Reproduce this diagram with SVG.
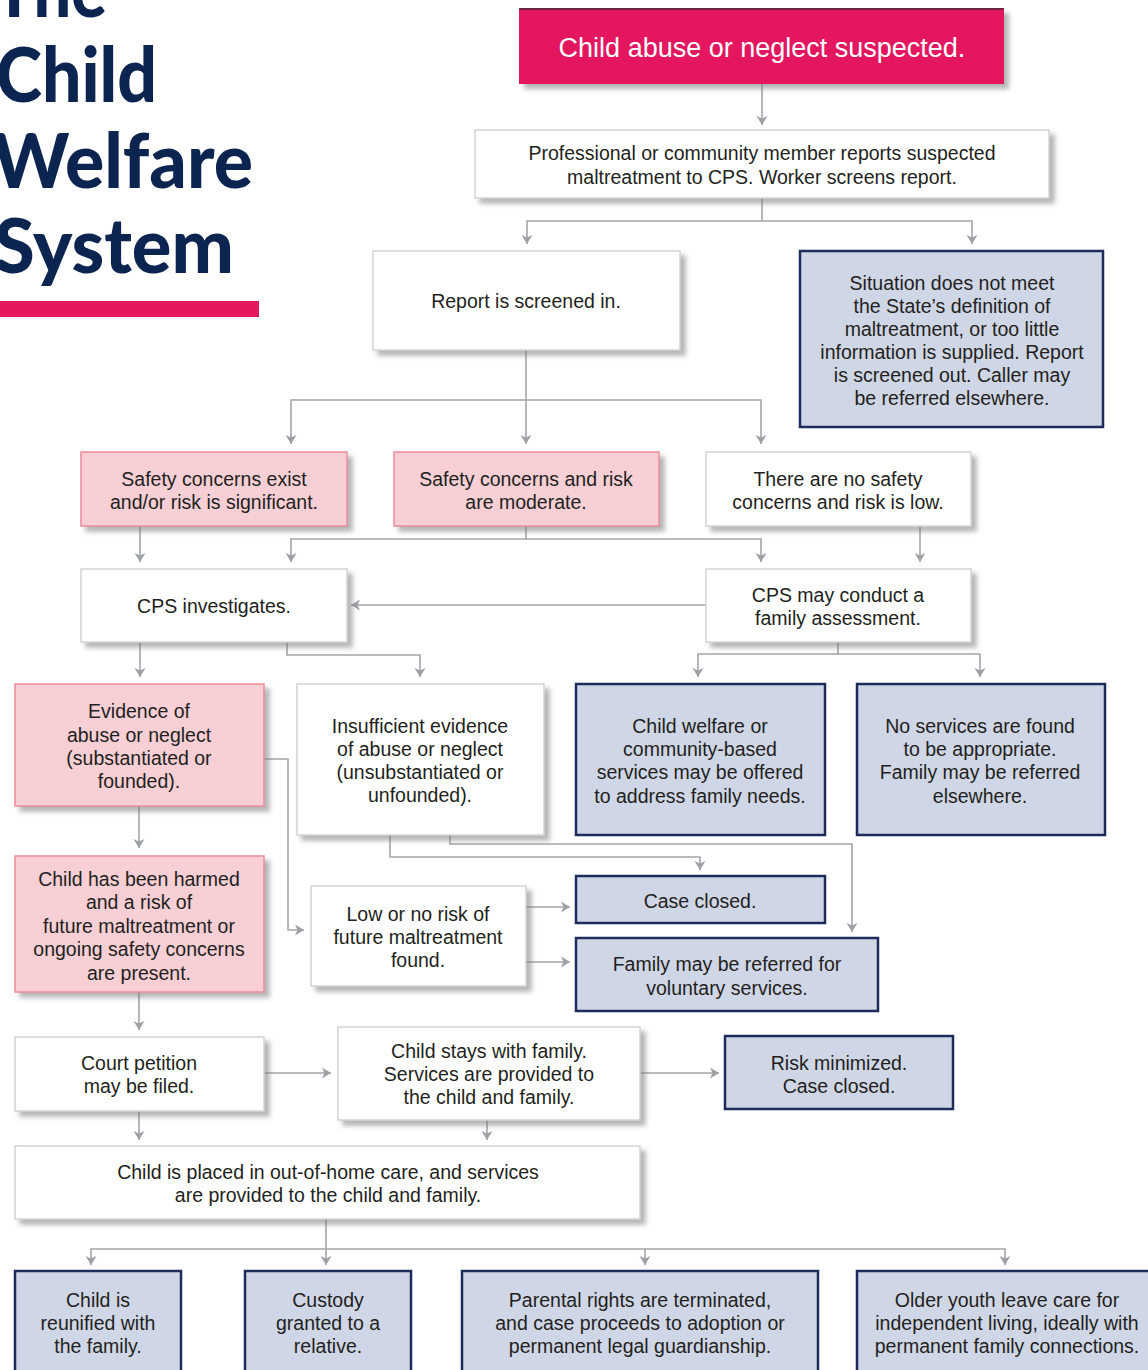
<svg xmlns="http://www.w3.org/2000/svg" width="1148" height="1370" viewBox="0 0 1148 1370">
<defs>
<style>
.t{font-family:"Liberation Sans",Arial,sans-serif;font-size:19.5px;fill:#231f20;text-anchor:middle}
.title{font-family:Lato,"Noto Sans","Liberation Sans",sans-serif;font-weight:900;font-size:76px;fill:#0c2550}
.w{fill:#ffffff;stroke:#d3d3d3;stroke-width:1.5}
.p{fill:#f7cfd5;stroke:#ec8c9b;stroke-width:1.5}
.b{fill:#cfd6e6;stroke:#1d2c5b;stroke-width:2.5}
.c{fill:none;stroke:#a2a5aa;stroke-width:1.6}
</style>
<filter id="sh" x="-10%" y="-10%" width="130%" height="140%">
<feDropShadow dx="5" dy="5" stdDeviation="2.5" flood-color="#777" flood-opacity="0.55"/>
</filter>
<marker id="ar" markerUnits="userSpaceOnUse" markerWidth="12" markerHeight="12" refX="9" refY="6" orient="auto">
<path d="M0,0.5 L9,6 L0,11.5 L2.5,6 z" fill="#9da1a6"/>
</marker>
</defs>
<rect width="1148" height="1370" fill="#ffffff"/>

<g id="title">
<text class="title" x="-6" y="17" textLength="113" lengthAdjust="spacingAndGlyphs">The</text>
<text class="title" x="-4" y="102" textLength="161" lengthAdjust="spacingAndGlyphs">Child</text>
<text class="title" x="-8" y="188" textLength="261" lengthAdjust="spacingAndGlyphs">Welfare</text>
<text class="title" x="-6" y="273" textLength="240" lengthAdjust="spacingAndGlyphs">System</text>
<rect x="0" y="301" width="259" height="16" fill="#e5175f"/>
</g>

<g id="connectors">
<path class="c" d="M762,84 V125" marker-end="url(#ar)"/>
<path class="c" d="M762,198 V221"/>
<path class="c" d="M762,221 H527 V244" marker-end="url(#ar)"/>
<path class="c" d="M762,221 H972 V244" marker-end="url(#ar)"/>
<path class="c" d="M526,350 V444" marker-end="url(#ar)"/>
<path class="c" d="M526,400 H291 V444" marker-end="url(#ar)"/>
<path class="c" d="M526,400 H761 V444" marker-end="url(#ar)"/>
<path class="c" d="M140,526 V562" marker-end="url(#ar)"/>
<path class="c" d="M526,526 V539 H291 V562" marker-end="url(#ar)"/>
<path class="c" d="M526,539 H761 V562" marker-end="url(#ar)"/>
<path class="c" d="M920,526 V562" marker-end="url(#ar)"/>
<path class="c" d="M706,605 H351" marker-end="url(#ar)"/>
<path class="c" d="M140,642 V677" marker-end="url(#ar)"/>
<path class="c" d="M287,642 V655 H420 V677" marker-end="url(#ar)"/>
<path class="c" d="M838,642 V654 H698 V677" marker-end="url(#ar)"/>
<path class="c" d="M838,654 H980 V677" marker-end="url(#ar)"/>
<path class="c" d="M139,806 V848" marker-end="url(#ar)"/>
<path class="c" d="M264,759 H288 V930 H304" marker-end="url(#ar)"/>
<path class="c" d="M390,835 V857 H700 V870" marker-end="url(#ar)"/>
<path class="c" d="M450,835 V844 H852 V932" marker-end="url(#ar)"/>
<path class="c" d="M526,907 H570" marker-end="url(#ar)"/>
<path class="c" d="M526,962 H570" marker-end="url(#ar)"/>
<path class="c" d="M139,992 V1030" marker-end="url(#ar)"/>
<path class="c" d="M264,1073 H331" marker-end="url(#ar)"/>
<path class="c" d="M640,1073 H719" marker-end="url(#ar)"/>
<path class="c" d="M139,1111 V1140" marker-end="url(#ar)"/>
<path class="c" d="M487,1120 V1140" marker-end="url(#ar)"/>
<path class="c" d="M326,1219 V1265" marker-end="url(#ar)"/>
<path class="c" d="M326,1249 H91 V1265" marker-end="url(#ar)"/>
<path class="c" d="M326,1249 H645 V1265" marker-end="url(#ar)"/>
<path class="c" d="M645,1249 H1005 V1265" marker-end="url(#ar)"/>
</g>

<g id="n-suspected">
<rect x="519" y="8" width="485" height="76" fill="#e4185f" filter="url(#sh)"/>
<rect x="519" y="8" width="485" height="2" fill="#6b2340"/>
<text class="t" x="762" y="57" style="font-size:27px;fill:#ffffff">Child abuse or neglect suspected.</text>
</g>

<g id="n-report">
<rect class="w" x="475" y="130" width="574" height="68" filter="url(#sh)"/>
<text class="t" x="762" y="160">Professional or community member reports suspected</text>
<text class="t" x="762" y="184">maltreatment to CPS. Worker screens report.</text>
</g>

<g id="n-screened-in">
<rect class="w" x="373" y="251" width="307" height="99" filter="url(#sh)"/>
<text class="t" x="526" y="308">Report is screened in.</text>
</g>

<g id="n-screened-out">
<rect class="b" x="800" y="251" width="303" height="176"/>
<text class="t" x="952" y="290">Situation does not meet</text>
<text class="t" x="952" y="313">the State’s definition of</text>
<text class="t" x="952" y="336">maltreatment, or too little</text>
<text class="t" x="952" y="359">information is supplied. Report</text>
<text class="t" x="952" y="382">is screened out. Caller may</text>
<text class="t" x="952" y="405">be referred elsewhere.</text>
</g>

<g id="n-significant">
<rect class="p" x="81" y="452" width="266" height="74" filter="url(#sh)"/>
<text class="t" x="214" y="486">Safety concerns exist</text>
<text class="t" x="214" y="509">and/or risk is significant.</text>
</g>

<g id="n-moderate">
<rect class="p" x="394" y="452" width="265" height="74" filter="url(#sh)"/>
<text class="t" x="526" y="486">Safety concerns and risk</text>
<text class="t" x="526" y="509">are moderate.</text>
</g>

<g id="n-low">
<rect class="w" x="706" y="452" width="265" height="74" filter="url(#sh)"/>
<text class="t" x="838" y="486">There are no safety</text>
<text class="t" x="838" y="509">concerns and risk is low.</text>
</g>

<g id="n-investigates">
<rect class="w" x="81" y="569" width="266" height="73" filter="url(#sh)"/>
<text class="t" x="214" y="613">CPS investigates.</text>
</g>

<g id="n-assessment">
<rect class="w" x="706" y="569" width="265" height="73" filter="url(#sh)"/>
<text class="t" x="838" y="602">CPS may conduct a</text>
<text class="t" x="838" y="625">family assessment.</text>
</g>

<g id="n-evidence">
<rect class="p" x="15" y="684" width="249" height="122" filter="url(#sh)"/>
<text class="t" x="139" y="718">Evidence of</text>
<text class="t" x="139" y="742">abuse or neglect</text>
<text class="t" x="139" y="765">(substantiated or</text>
<text class="t" x="139" y="788">founded).</text>
</g>

<g id="n-insufficient">
<rect class="w" x="297" y="684" width="247" height="151" filter="url(#sh)"/>
<text class="t" x="420" y="733">Insufficient evidence</text>
<text class="t" x="420" y="756">of abuse or neglect</text>
<text class="t" x="420" y="779">(unsubstantiated or</text>
<text class="t" x="420" y="802">unfounded).</text>
</g>

<g id="n-services-offered">
<rect class="b" x="576" y="684" width="249" height="151"/>
<text class="t" x="700" y="733">Child welfare or</text>
<text class="t" x="700" y="756">community-based</text>
<text class="t" x="700" y="779">services may be offered</text>
<text class="t" x="700" y="803">to address family needs.</text>
</g>

<g id="n-no-services">
<rect class="b" x="857" y="684" width="248" height="151"/>
<text class="t" x="980" y="733">No services are found</text>
<text class="t" x="980" y="756">to be appropriate.</text>
<text class="t" x="980" y="779">Family may be referred</text>
<text class="t" x="980" y="803">elsewhere.</text>
</g>

<g id="n-harmed">
<rect class="p" x="15" y="856" width="249" height="136" filter="url(#sh)"/>
<text class="t" x="139" y="886">Child has been harmed</text>
<text class="t" x="139" y="909">and a risk of</text>
<text class="t" x="139" y="933">future maltreatment or</text>
<text class="t" x="139" y="956">ongoing safety concerns</text>
<text class="t" x="139" y="980">are present.</text>
</g>

<g id="n-low-risk">
<rect class="w" x="311" y="886" width="215" height="100" filter="url(#sh)"/>
<text class="t" x="418" y="921">Low or no risk of</text>
<text class="t" x="418" y="944">future maltreatment</text>
<text class="t" x="418" y="967">found.</text>
</g>

<g id="n-case-closed">
<rect class="b" x="576" y="876" width="249" height="47"/>
<text class="t" x="700" y="908">Case closed.</text>
</g>

<g id="n-voluntary">
<rect class="b" x="576" y="938" width="302" height="73"/>
<text class="t" x="727" y="971">Family may be referred for</text>
<text class="t" x="727" y="995">voluntary services.</text>
</g>

<g id="n-court">
<rect class="w" x="15" y="1037" width="249" height="74" filter="url(#sh)"/>
<text class="t" x="139" y="1070">Court petition</text>
<text class="t" x="139" y="1093">may be filed.</text>
</g>

<g id="n-stays">
<rect class="w" x="338" y="1027" width="302" height="93" filter="url(#sh)"/>
<text class="t" x="489" y="1058">Child stays with family.</text>
<text class="t" x="489" y="1081">Services are provided to</text>
<text class="t" x="489" y="1104">the child and family.</text>
</g>

<g id="n-risk-min">
<rect class="b" x="725" y="1036" width="228" height="73"/>
<text class="t" x="839" y="1070">Risk minimized.</text>
<text class="t" x="839" y="1093">Case closed.</text>
</g>

<g id="n-out-of-home">
<rect class="w" x="15" y="1146" width="625" height="73" filter="url(#sh)"/>
<text class="t" x="328" y="1179">Child is placed in out-of-home care, and services</text>
<text class="t" x="328" y="1202">are provided to the child and family.</text>
</g>

<g id="n-reunified">
<rect class="b" x="15" y="1271" width="166" height="110"/>
<text class="t" x="98" y="1307">Child is</text>
<text class="t" x="98" y="1330">reunified with</text>
<text class="t" x="98" y="1353">the family.</text>
</g>

<g id="n-custody">
<rect class="b" x="245" y="1271" width="166" height="110"/>
<text class="t" x="328" y="1307">Custody</text>
<text class="t" x="328" y="1330">granted to a</text>
<text class="t" x="328" y="1353">relative.</text>
</g>

<g id="n-adoption">
<rect class="b" x="462" y="1271" width="356" height="110"/>
<text class="t" x="640" y="1307">Parental rights are terminated,</text>
<text class="t" x="640" y="1330">and case proceeds to adoption or</text>
<text class="t" x="640" y="1353">permanent legal guardianship.</text>
</g>

<g id="n-older-youth">
<rect class="b" x="857" y="1271" width="300" height="110"/>
<text class="t" x="1007" y="1307">Older youth leave care for</text>
<text class="t" x="1007" y="1330">independent living, ideally with</text>
<text class="t" x="1007" y="1353">permanent family connections.</text>
</g>
</svg>
